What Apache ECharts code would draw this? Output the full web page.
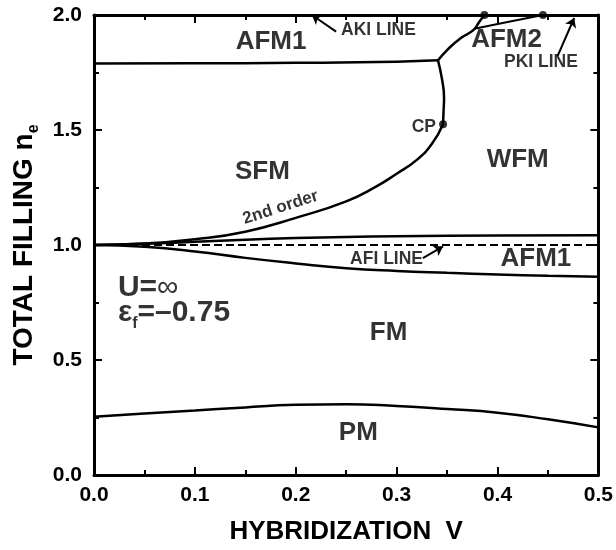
<!DOCTYPE html>
<html>
<head>
<meta charset="UTF-8">
<title>Phase diagram</title>
<script src="https://cdn.jsdelivr.net/npm/echarts@6/dist/echarts.min.js"></script>
<style>
  html, body { margin: 0; background: #fff; }
  #chart { width: 616px; height: 550px; }
</style>
</head>
<body>
<div id="chart"></div>
<script>
  // phase boundaries, [V, n_e]
  const pmLine = [[0,0.253],[0.05,0.267],[0.1,0.280],[0.15,0.294],[0.2,0.305],[0.25,0.308],[0.3,0.300],[0.35,0.287],[0.4,0.271],[0.45,0.242],[0.5,0.207]];
  const lowerAfm = [[0,1.0],[0.05,0.992],[0.1,0.972],[0.15,0.944],[0.2,0.92],[0.25,0.899],[0.3,0.887],[0.35,0.879],[0.4,0.872],[0.45,0.866],[0.5,0.862]];
  const upperAfm = [[0,1.0],[0.05,1.005],[0.1,1.014],[0.15,1.023],[0.2,1.03],[0.25,1.035],[0.3,1.038],[0.4,1.041],[0.5,1.042]];
  const afiLine = [[0,1.0],[0.5,1.0]];
  const secondOrder = [[0,1.0],[0.05,1.006],[0.1,1.025],[0.15,1.058],[0.2,1.118],[0.25,1.19],[0.28,1.255],[0.3,1.31],[0.32,1.37],[0.335,1.44],[0.346,1.525]];
  const afmTop = [[0,1.789],[0.1,1.79],[0.2,1.792],[0.3,1.797],[0.341,1.803]];
  const afm2Edge = [[0.341,1.803],[0.351,1.852],[0.364,1.901],[0.376,1.934],[0.382,1.971],[0.387,2.0]];
  const cpBranch = [[0.341,1.803],[0.345,1.72],[0.347,1.64],[0.3465,1.58],[0.346,1.525]];
  const pkiLine = [[0.377,1.94],[0.41,1.970],[0.445,2.0]];
  const dots = [[0.387,2.0],[0.445,2.0],[0.346,1.525]];

  // region labels: [V, n_e, text]
  const bigLabels = [[0.1755,1.882,'AFM1'],[0.409,1.894,'AFM2'],[0.167,1.32,'SFM'],[0.42,1.37,'WFM'],[0.438,0.939,'AFM1'],[0.292,0.617,'FM'],[0.262,0.182,'PM']];
  const smallLabels = [[0.282,1.932,'AKI LINE'],[0.443,1.797,'PKI LINE'],[0.290,0.939,'AFI LINE'],[0.327,1.514,'CP']];
  const arrows = [[[0.240,1.928],[0.216,2.0]],[[0.4596,1.822],[0.476,1.987]],[[0.326,0.943],[0.346,0.994]]];

  const font = 'Liberation Sans, Arial, Helvetica, sans-serif';
  const ink = '#000';

  const chart = echarts.init(document.getElementById('chart'));

  function curve(data, smooth, extra) {
    return Object.assign({
      type: 'line', data: data, smooth: smooth, symbol: 'none', silent: true,
      lineStyle: { color: ink, width: 2.5 }
    }, extra || {});
  }

  const axisCommon = {
    axisLine: { onZero: false, lineStyle: { color: ink, width: 3 } },
    axisTick: { inside: true, length: 8, lineStyle: { color: ink, width: 2 } },
    minorTick: { show: true, splitNumber: 2, length: 5, lineStyle: { color: ink, width: 2 } },
    splitLine: { show: false }
  };

  chart.setOption({
    animation: false,
    backgroundColor: '#fff',
    grid: { left: 94, right: 15, top: 15, bottom: 62, containLabel: false },
    xAxis: [
      Object.assign({
        type: 'value', min: 0, max: 0.5, interval: 0.1, position: 'bottom',
        name: 'HYBRIDIZATION  V', nameLocation: 'middle', nameGap: 44,
        nameTextStyle: { fontFamily: font, fontWeight: 'bold', fontSize: 26, color: ink },
        axisLabel: { margin: 10, fontFamily: font, fontWeight: 'bold', fontSize: 21, color: ink,
          formatter: v => v.toFixed(1) }
      }, axisCommon),
      Object.assign({
        type: 'value', min: 0, max: 0.5, interval: 0.1, position: 'top',
        axisLabel: { show: false }
      }, axisCommon)
    ],
    yAxis: [
      Object.assign({
        type: 'value', min: 0, max: 2, interval: 0.5, position: 'left',
        name: '{t|TOTAL FILLING n}{s|e}', nameLocation: 'middle', nameGap: 50, nameRotate: 90,
        nameTextStyle: {
          rich: {
            t: { fontFamily: font, fontWeight: 'bold', fontSize: 28, color: ink, lineHeight: 36 },
            s: { fontFamily: font, fontWeight: 'bold', fontSize: 16, color: ink, verticalAlign: 'bottom', lineHeight: 36 }
          }
        },
        axisLabel: { margin: 12, fontFamily: font, fontWeight: 'bold', fontSize: 21, color: ink,
          formatter: v => v.toFixed(1) }
      }, axisCommon),
      Object.assign({
        type: 'value', min: 0, max: 2, interval: 0.5, position: 'right',
        axisLabel: { show: false }
      }, axisCommon)
    ],
    series: [
      curve(pmLine, true),
      curve(lowerAfm, true),
      curve(upperAfm, true),
      curve(afiLine, false, { lineStyle: { color: ink, width: 2, type: [8, 4] } }),
      curve(secondOrder, true),
      curve(afmTop, true),
      curve(afm2Edge, true),
      curve(cpBranch, true),
      curve(pkiLine, true, { lineStyle: { color: ink, width: 2 } }),
      {
        type: 'scatter', data: dots, symbolSize: 8, silent: true,
        itemStyle: { color: ink }
      },
      {
        type: 'lines', coordinateSystem: 'cartesian2d', silent: true,
        data: arrows.map(a => ({ coords: a })),
        symbol: ['none', 'arrow'], symbolSize: 9,
        lineStyle: { color: ink, width: 2, opacity: 1 }
      },
      {
        type: 'scatter', symbolSize: 0, silent: true,
        data: bigLabels.map(d => ({ value: [d[0], d[1]], name: d[2] })),
        label: { show: true, position: 'inside', formatter: p => p.name,
          fontFamily: font, fontWeight: 'bold', fontSize: 26, color: ink }
      },
      {
        type: 'scatter', symbolSize: 0, silent: true,
        data: smallLabels.map(d => ({ value: [d[0], d[1]], name: d[2] })),
        label: { show: true, position: 'inside', formatter: p => p.name,
          fontFamily: font, fontWeight: 'bold', fontSize: 17.5, color: ink }
      },
      {
        type: 'scatter', symbolSize: 0, silent: true,
        data: [{ value: [0.185, 1.163], name: '2nd order' }],
        label: { show: true, position: 'inside', formatter: p => p.name, rotate: 18,
          fontFamily: font, fontWeight: 'bold', fontSize: 17, color: ink }
      },
      {
        type: 'scatter', symbolSize: 0, silent: true,
        data: [
          { value: [0.0237, 0.816], name: 'U=∞' },
          { value: [0.0237, 0.706], name: 'eps' }
        ],
        label: {
          show: true, position: 'inside', align: 'left',
          formatter: p => p.name === 'eps' ? '{m|ε}{s|f}{m|=–0.75}' : '{m|U=}{i|∞}',
          rich: {
            m: { fontFamily: font, fontWeight: 'bold', fontSize: 30, color: ink, lineHeight: 38 },
            i: { fontFamily: font, fontWeight: 'normal', fontSize: 30, color: ink, lineHeight: 38 },
            s: { fontFamily: font, fontWeight: 'bold', fontSize: 16, color: ink, lineHeight: 38, verticalAlign: 'bottom' }
          }
        }
      }
    ]
  });
</script>
</body>
</html>
